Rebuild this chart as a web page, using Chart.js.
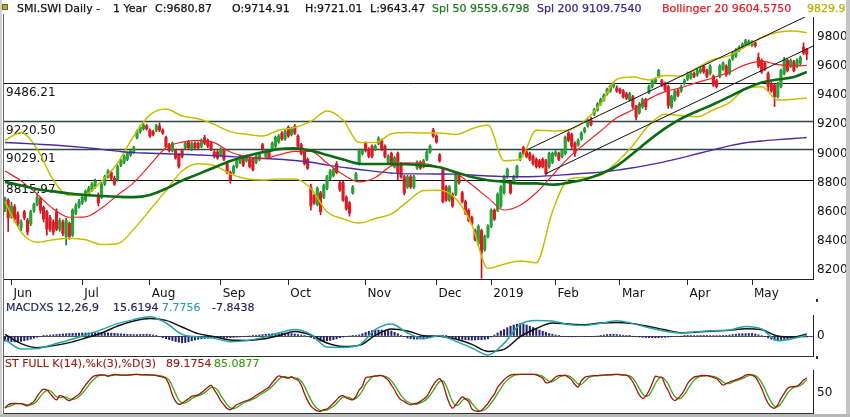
<!DOCTYPE html>
<html>
<head>
<meta charset="utf-8">
<title>SMI.SWI Daily - 1 Year</title>
<script src="https://cdn.jsdelivr.net/npm/chart.js@4.4.1/dist/chart.umd.min.js"></script>
<style>
  html, body { margin: 0; padding: 0; background: #fff; }
  #wrap { position: relative; width: 850px; height: 417px; overflow: hidden; background: #fff;
          font-family: "DejaVu Sans", sans-serif; }
  canvas { position: absolute; left: 0; }
  .t { position: absolute; white-space: pre; line-height: 14px; z-index: 5; }
  .hdr { top: 2px; font-size: 11px; -webkit-text-stroke: 0.25px; }
  .sub { font-size: 11px; -webkit-text-stroke: 0.15px; }
  .mark { position: absolute; left: 816px; width: 2px; height: 3px; background: #333; z-index: 5; }
  #icon { position: absolute; left: 2px; top: 4px; width: 4px; height: 4px; background: #b3a640;
          border: 1px solid #6e6a22; z-index: 5; }
  #frameL { position: absolute; left: 0; top: 0; width: 2px; height: 417px; background: #d0d0d0; z-index: 6; }
  #lineL { position: absolute; left: 3px; top: 14px; width: 1px; height: 400px; background: #6a6a6a; z-index: 6; }
  #frameR { position: absolute; left: 846px; top: 0; width: 4px; height: 417px; background: #c4c4c4; z-index: 6; }
  #frameB { position: absolute; left: 0; top: 414px; width: 850px; height: 3px; background: #b9b9b9; z-index: 6; }
</style>
</head>
<body>
<div id="wrap">
  <canvas id="main" width="850" height="302" style="top:0"></canvas>
  <canvas id="macd" width="850" height="58" style="top:300px"></canvas>
  <canvas id="stoch" width="850" height="58" style="top:356px"></canvas>

  <div id="icon"></div>
  <div class="t hdr" style="left:17px;color:#111">SMI.SWI Daily -</div>
  <div class="t hdr" style="left:113px;color:#111">1 Year</div>
  <div class="t hdr" style="left:155px;color:#111">C:9680.87</div>
  <div class="t hdr" style="left:232px;color:#111">O:9714.91</div>
  <div class="t hdr" style="left:305px;color:#111">H:9721.01</div>
  <div class="t hdr" style="left:370px;color:#111">L:9643.47</div>
  <div class="t hdr" style="left:432px;color:#1f7a1f">Spl 50 9559.6798</div>
  <div class="t hdr" style="left:537px;color:#3b2790">Spl 200 9109.7540</div>
  <div class="t hdr" style="left:662px;color:#e4202a">Bollinger 20 9604.5750</div>
  <div class="t hdr" style="left:807px;color:#b3b300">9829.9360</div>

  <div class="t sub" style="left:6px;top:301px;color:#1c1c5c">MACDXS 12,26,9</div>
  <div class="t sub" style="left:113px;top:301px;color:#1c1c5c">15.6194</div>
  <div class="t sub" style="left:162px;top:301px;color:#2a9f9f">7.7756</div>
  <div class="t sub" style="left:212px;top:301px;color:#1c1c5c">-7.8438</div>
  <div class="mark" style="top:299px"></div>
  <div class="mark" style="top:356px"></div>

  <div class="t sub" style="left:5px;top:357px;color:#9a1b12">ST FULL K(14),%k(3),%D(3)</div>
  <div class="t sub" style="left:166px;top:357px;color:#9a1b12">89.1754</div>
  <div class="t sub" style="left:214px;top:357px;color:#3f9a12">85.0877</div>

  <div id="frameL"></div>
  <div id="lineL"></div>
  <div id="frameR"></div>
  <div id="frameB"></div>
</div>
<script>
// daily candles, one entry per trading day (late May 2018 .. late May 2019)
const opens = [
  8620,8680,8570,8635,8580,8490,8600,8540,8520,8610,
  8650,8690,8630,8600,8560,8530,8600,8480,8530,8430,
  8520,8440,8590,8640,8660,8680,8720,8750,8770,8710,
  8700,8790,8840,8870,8830,8820,8920,8940,8960,8990,
  9010,9110,9150,9170,9190,9160,9150,9160,9190,9160,
  9110,9060,9020,9020,8990,9020,9040,9080,9030,9070,
  9070,9050,9110,9090,9070,9010,9010,8990,9020,8930,
  8870,8870,8910,8940,8970,8950,8960,8960,8940,8960,
  9060,8980,9010,9030,9050,9080,9140,9100,9180,9130,
  9185,9120,9060,9010,8960,8770,8710,8650,8730,8700,
  8760,8830,8850,8930,8800,8800,8700,8660,8730,8820,
  8930,9000,9070,9030,9050,9030,9070,9090,9050,8940,
  9000,8910,9000,8930,8840,8770,8840,8770,8900,8940,
  8910,8960,9010,9160,9120,8990,8890,8770,8680,8720,
  8720,8860,8730,8670,8610,8560,8470,8380,8470,8340,
  8430,8500,8610,8610,8640,8730,8840,8800,8800,8840,
  8960,9040,9010,9000,8980,8960,8950,8960,8950,8910,
  8940,8990,9000,8980,9000,9140,9130,9070,9060,9100,
  9150,9190,9230,9270,9300,9340,9370,9410,9430,9460,
  9450,9440,9430,9410,9370,9390,9320,9280,9320,9370,
  9420,9460,9490,9530,9500,9480,9460,9320,9370,9430,
  9430,9480,9510,9520,9550,9540,9560,9600,9570,9550,
  9530,9500,9530,9580,9600,9550,9650,9670,9710,9730,
  9750,9750,9745,9760,9660,9640,9620,9550,9480,9470,
  9390,9460,9550,9640,9600,9630,9600,9620,9730,9714.91
];
const highs = [
  8700,8690,8665,8650,8600,8545,8610,8555,8610,8660,
  8730,8700,8640,8610,8575,8545,8620,8555,8545,8555,
  8530,8620,8655,8685,8715,8750,8775,8800,8825,8730,
  8800,8850,8890,8880,8845,8920,8960,8990,9010,9030,
  9050,9160,9190,9205,9200,9170,9160,9200,9210,9170,
  9120,9070,9080,9030,9000,9030,9080,9090,9080,9080,
  9080,9100,9125,9100,9080,9020,9020,9040,9030,8940,
  8880,8920,8960,8990,8980,8990,8970,8970,8990,9010,
  9070,9030,9020,9080,9120,9130,9150,9160,9190,9180,
  9200,9130,9070,9020,8970,8790,8720,8770,8740,8790,
  8850,8890,8900,8945,8810,8810,8710,8670,8780,8870,
  9030,9030,9080,9040,9060,9060,9115,9100,9060,8990,
  9010,8980,9010,8940,8850,8850,8850,8850,8950,8950,
  8960,9020,9060,9173,9130,9000,8900,8780,8780,8730,
  8870,8870,8740,8680,8620,8570,8480,8510,8480,8440,
  8510,8620,8620,8730,8780,8850,8900,8810,8850,8920,
  9010,9050,9020,9010,8990,8970,8960,8970,8960,9010,
  9010,9020,9010,9030,9120,9150,9140,9080,9100,9150,
  9180,9240,9250,9310,9350,9380,9410,9450,9470,9490,
  9465,9450,9440,9420,9420,9400,9330,9350,9380,9380,
  9470,9510,9520,9578,9510,9490,9470,9400,9440,9440,
  9470,9510,9560,9560,9560,9580,9590,9610,9580,9610,
  9540,9510,9610,9630,9610,9650,9700,9720,9740,9760,
  9785,9780,9775,9770,9690,9650,9630,9560,9490,9480,
  9490,9580,9660,9650,9650,9640,9650,9670,9760,9721.01
];
const lows = [
  8600,8464,8555,8530,8500,8470,8545,8440,8505,8595,
  8640,8590,8530,8440,8465,8440,8470,8465,8435,8372,
  8410,8430,8580,8625,8650,8670,8710,8740,8760,8640,
  8690,8780,8830,8815,8780,8810,8910,8930,8950,8980,
  9000,9100,9140,9160,9160,9110,9120,9150,9150,9130,
  9040,9010,9010,8960,8900,8970,9030,9030,9020,9030,
  9030,9040,9060,9040,9020,8970,8960,8980,8950,8860,
  8795,8860,8900,8930,8910,8940,8900,8880,8930,8950,
  9020,8970,8970,9020,9040,9070,9090,9090,9110,9120,
  9130,9040,8990,8920,8890,8610,8650,8640,8580,8690,
  8750,8820,8840,8860,8740,8670,8610,8570,8720,8810,
  8920,8990,9010,8970,8970,9020,9060,9020,8970,8930,
  8920,8900,8820,8830,8715,8760,8760,8760,8890,8890,
  8900,8950,9000,9110,9070,8940,8660,8670,8670,8630,
  8710,8790,8660,8580,8530,8510,8400,8370,8143,8330,
  8420,8490,8540,8600,8630,8720,8830,8720,8790,8830,
  8950,8990,8970,8950,8920,8900,8900,8900,8850,8900,
  8930,8980,8950,8970,8990,9080,9035,8980,9050,9090,
  9140,9180,9190,9260,9290,9330,9360,9400,9420,9450,
  9420,9410,9380,9370,9360,9310,9230,9270,9310,9300,
  9410,9450,9480,9520,9460,9430,9310,9310,9360,9390,
  9420,9470,9500,9510,9520,9530,9550,9550,9520,9540,
  9460,9450,9520,9570,9530,9540,9640,9660,9700,9720,
  9740,9740,9735,9730,9590,9550,9570,9425,9420,9322,
  9380,9450,9540,9560,9590,9560,9590,9610,9680,9643.47
];
const closes = [
  8690,8560,8640,8550,8520,8530,8560,8460,8600,8650,
  8700,8610,8550,8480,8480,8460,8480,8540,8450,8540,
  8430,8610,8640,8670,8700,8740,8760,8790,8810,8660,
  8790,8840,8880,8830,8790,8910,8950,8980,9000,9020,
  9040,9150,9180,9195,9170,9120,9130,9190,9160,9140,
  9050,9020,9070,8970,8910,8980,9070,9040,9070,9040,
  9040,9090,9070,9050,9030,8980,8970,9030,8960,8870,
  8820,8910,8950,8980,8920,8980,8910,8890,8980,9000,
  9030,9020,8980,9070,9110,9120,9100,9150,9120,9170,
  9140,9050,9000,8930,8900,8640,8660,8760,8600,8780,
  8840,8880,8890,8870,8750,8680,8620,8590,8770,8860,
  9020,9020,9020,8980,8980,9050,9100,9030,8980,8980,
  8930,8970,8870,8840,8730,8840,8770,8840,8940,8900,
  8950,9010,9050,9120,9080,8950,8670,8680,8770,8640,
  8860,8800,8670,8590,8540,8520,8410,8500,8320,8430,
  8500,8610,8550,8720,8770,8840,8890,8730,8840,8910,
  9000,9000,8980,8960,8930,8910,8910,8910,8860,9000,
  9000,9010,8960,9020,9110,9090,9050,9000,9090,9140,
  9170,9230,9200,9300,9340,9370,9400,9440,9460,9485,
  9430,9420,9390,9380,9410,9320,9250,9340,9370,9320,
  9460,9500,9510,9570,9470,9440,9330,9390,9430,9400,
  9460,9500,9550,9550,9530,9570,9580,9560,9530,9600,
  9470,9460,9600,9620,9540,9640,9690,9710,9730,9750,
  9775,9770,9765,9740,9600,9560,9580,9460,9430,9390,
  9480,9570,9650,9570,9640,9570,9640,9660,9690,9680.87
];

// overlay lines read every 5 trading days
const sampleDays = [0,5,10,15,20,25,30,35,40,45,50,55,60,65,70,75,80,85,90,95,
  100,105,110,115,120,125,130,135,140,145,150,155,160,165,170,175,180,185,190,195,
  200,205,210,215,220,225,230,235,240,245,249];
const spl50 = [8805,8780,8755,8740,8725,8715,8708,8703,8700,8715,8758,8814,8858,8904,8948,8983,9008,9030,9036,9020,
  8990,8958,8930,8928,8928,8926,8918,8905,8871,8838,8816,8806,8795,8795,8786,8800,8822,8860,8915,9000,
  9090,9172,9240,9290,9338,9390,9445,9488,9508,9525,9559.68];
const spl200 = [9075,9070,9064,9058,9050,9040,9028,9016,9006,9002,8998,8994,8990,8985,8979,8973,8966,8960,8952,8940,
  8920,8905,8890,8877,8866,8860,8860,8859,8858,8852,8845,8841,8840,8842,8848,8856,8864,8872,8886,8902,
  8922,8944,8970,8998,9025,9052,9074,9086,9095,9103,9109.75];
const bollMid = [8880,8812,8720,8620,8562,8565,8625,8715,8800,8920,9040,9078,9090,9075,9010,8978,8966,8990,9015,9015,
  8935,8855,8805,8835,8915,8935,8930,8905,8866,8785,8695,8612,8645,8730,8850,8970,9065,9155,9245,9300,
  9375,9425,9452,9488,9520,9560,9610,9635,9610,9602,9604.58];
const bollUp = [9090,9145,9030,8818,8712,8720,8810,8935,9120,9265,9305,9258,9238,9200,9150,9132,9120,9160,9178,9220,
  9292,9230,9075,9075,9135,9145,9140,9140,9130,9170,9195,8950,8960,9160,9155,9160,9225,9340,9510,9525,
  9505,9535,9532,9590,9645,9672,9735,9795,9832,9842,9829.94];
const bollLow = [8670,8460,8390,8408,8418,8407,8375,8380,8480,8612,8745,8880,8930,8918,8860,8826,8818,8825,8825,8760,
  8600,8552,8522,8553,8585,8670,8745,8748,8690,8510,8210,8240,8262,8250,8600,8822,8835,8850,8940,9055,
  9195,9270,9260,9253,9300,9350,9445,9458,9368,9373,9379];
const macdLine = [-29,-104,-101,-67,-32,8,51,99,131,155,104,13,-8,-19,-45,-37,-13,24,53,13,
  -88,-91,-72,51,96,24,-21,3,-43,-96,-152,-59,95,125,120,91,85,101,123,99,
  66,38,24,35,43,48,77,56,-37,-19,7.78];
const macdSignal = [13,-61,-93,-77,-53,-16,24,80,120,141,125,72,19,-5,-32,-35,-24,3,37,8,
  -56,-83,-75,5,56,40,3,-3,-24,-67,-123,-107,-5,60,104,96,91,104,109,99,
  76,50,27,32,40,45,59,50,0,-8,15.62];

// daily MACD histogram and stochastic
const macdHist = [
  -40,-44,-46,-47,-46,-43,-38,-32,-25,-17,
  -10,-4,1,5,8,10,12,14,16,18,
  20,21,22,23,24,24,25,25,26,27,
  27,26,25,23,21,19,17,15,13,12,
  11,11,12,13,14,12,8,2,-5,-13,
  -21,-29,-37,-44,-50,-55,-52,-45,-38,-32,
  -27,-23,-20,-17,-15,-14,-13,-13,-13,-13,
  -13,-11,-9,-7,-5,-2,0,3,6,9,
  11,14,16,18,20,21,22,22,21,19,
  16,12,8,3,-4,-12,-22,-32,-40,-42,
  -38,-35,-30,-22,-14,-8,-4,0,2,5,
  9,18,28,37,43,46,48,48,46,43,
  40,30,18,5,-6,-16,-22,-25,-25,-24,
  -24,-18,-12,-6,0,4,6,2,-5,-12,
  -18,-23,-27,-30,-32,-33,-32,-30,-29,-27,
  -22,-8,8,24,40,52,66,78,88,95,
  100,96,88,78,68,58,48,38,28,20,
  14,8,3,-2,-5,-6,-7,-6,-4,-2,
  -2,-3,-3,-2,0,3,8,12,14,13,
  12,9,6,3,1,-2,-5,-8,-10,-12,
  -13,-14,-14,-13,-12,-10,-8,-6,-4,-2,
  -1,1,2,3,4,4,5,5,5,4,
  4,4,4,5,6,8,11,14,17,19,
  18,20,20,16,10,4,-6,-16,-26,-34,
  -37,-34,-28,-22,-17,-12,-10,-9,-8,-7.84
];
const stochK = [
  10,19,22,23,22,22,19,16,22,28,
  41,53,60,58,49,39,32,43,41,34,
  30,35,41,47,58,71,81,91,96,97,
  98,97,94,97,99,98,97,97,97,98,
  99,99,98,98,98,97,97,96,94,92,
  88,71,45,28,20,23,29,35,41,43,
  45,51,58,65,70,58,45,30,19,9,
  6,12,19,23,27,30,33,38,44,49,
  54,60,66,77,87,95,93,91,89,93,
  87,84,71,49,30,16,8,3,2,6,
  8,15,23,32,41,43,37,34,32,41,
  58,68,90,92,94,95,96,96,91,84,
  71,58,42,32,28,22,19,22,23,28,
  34,41,56,71,82,88,75,47,23,10,
  19,30,40,34,28,8,3,2,4,13,
  23,36,47,65,75,85,92,97,99,99,
  99,99,99,99,99,98,94,89,77,78,
  84,92,96,96,97,91,84,72,66,82,
  91,94,95,96,96,97,97,98,98,99,
  99,98,97,97,91,79,62,45,36,42,
  56,75,94,92,91,71,56,38,30,36,
  45,58,75,85,92,94,96,96,96,94,
  91,88,79,71,75,79,82,85,88,92,
  97,99,97,92,79,62,41,23,13,10,
  19,36,49,62,66,67,68,75,84,89.18
];
const stochD = [
  12,14,17,21,22,22,21,19,19,22,
  30,41,51,57,56,49,40,38,39,39,
  35,33,35,41,49,59,70,81,89,95,
  97,97,96,96,97,98,98,97,97,97,
  98,99,99,98,98,98,97,97,96,94,
  91,84,68,48,31,24,24,29,35,40,
  43,46,51,58,64,64,58,44,31,19,
  11,9,12,18,23,27,30,34,38,44,
  49,54,60,68,77,86,92,93,91,91,
  90,88,81,68,50,32,18,9,4,4,
  5,10,15,23,32,39,40,38,34,36,
  44,56,72,83,92,94,95,96,94,90,
  82,71,57,44,34,27,23,21,21,24,
  28,34,44,56,70,80,82,70,48,27,
  17,20,30,35,34,23,13,4,3,6,
  13,24,35,49,62,75,84,91,96,98,
  99,99,99,99,99,99,97,94,87,81,
  80,85,91,95,96,95,91,82,74,73,
  80,89,93,95,96,96,97,97,98,98,
  99,99,98,97,95,89,77,62,48,41,
  45,58,75,87,92,85,73,55,41,35,
  37,46,59,73,84,90,94,95,96,95,
  94,91,86,79,75,75,79,82,85,88,
  92,96,98,96,89,78,61,42,26,15,
  14,22,35,49,59,65,67,70,76,85.09
];

// horizontal levels and channel lines drawn on the price panel
const levels = [9486.21, 9220.50, 9029.01, 8815.97];
const channelUpper = [[162, 9024], [250.94, 9964]];
const channelLower = [[168, 8862], [250.94, 9738]];

// axes
const monthDays = [2, 24, 45, 67, 88, 112, 134, 151, 171, 191, 212, 232];
const monthLabels = ['Jun','Jul','Aug','Sep','Oct','Nov','Dec','2019','Feb','Mar','Apr','May'];
const priceTicks = [8200, 8400, 8600, 8800, 9000, 9200, 9400, 9600, 9800];

Chart.defaults.font.family = '"DejaVu Sans", sans-serif';
Chart.defaults.font.size = 12;
Chart.defaults.color = '#111';
Chart.defaults.animation = false;
Chart.defaults.events = [];
Chart.defaults.plugins.legend.display = false;
Chart.defaults.plugins.tooltip.enabled = false;

const X_MIN = -0.3, X_MAX = 250.94;
const UP = '#27a336', UP_WICK = '#1b7a25', DOWN = '#dc1c24', DOWN_WICK = '#c0141c';

const isUp = i => closes[i] >= opens[i];
const sampled = arr => sampleDays.map((d, k) => ({ x: d, y: arr[k] }));
const daily = arr => arr.map((v, i) => ({ x: i, y: v }));

// keep label overhang from shrinking the plot area
function noPad(s) {
  s.paddingTop = 0; s.paddingBottom = 0; s.paddingLeft = 0; s.paddingRight = 0;
}

function line(data, color, width, order) {
  return { type: 'line', data, borderColor: color, borderWidth: width, pointRadius: 0,
           cubicInterpolationMode: 'monotone', fill: false, order };
}

function plainX(h) {
  return {
    type: 'linear', min: X_MIN, max: X_MAX, offset: false,
    grid: { display: true, drawOnChartArea: false, drawTicks: false, offset: false },
    border: { display: true, color: '#333' },
    ticks: { display: false },
    afterFit: s => { s.height = h; noPad(s); }
  };
}

function rightY(min, max, tickVals, zeroGrid) {
  return {
    type: 'linear', position: 'right', min, max,
    grid: { display: true, drawOnChartArea: !!zeroGrid, drawTicks: false, color: '#555' },
    border: { display: true, color: '#222' },
    ticks: { padding: 4, callback: v => String(v) },
    afterBuildTicks: s => { s.ticks = tickVals.map(v => ({ value: v })); },
    afterFit: s => { s.width = 37; noPad(s); }
  };
}

const levelPlugin = {
  id: 'levels',
  beforeDatasetsDraw(chart) {
    const { ctx, chartArea: a } = chart;
    const y = chart.scales.y;
    ctx.save();
    levels.forEach((v, k) => {
      const py = Math.round(y.getPixelForValue(v)) + 0.5;
      const mid = k === 1 || k === 2;
      ctx.strokeStyle = mid ? '#2c4646' : '#111';
      ctx.lineWidth = mid ? 1.6 : 1;
      ctx.beginPath();
      ctx.moveTo(a.left, py);
      ctx.lineTo(a.right, py);
      ctx.stroke();
      ctx.fillStyle = '#111';
      ctx.font = '12px "DejaVu Sans", sans-serif';
      ctx.textBaseline = 'top';
      ctx.fillText(v.toFixed(2), a.left + 2, py + 3);
    });
    ctx.restore();
  }
};

new Chart(document.getElementById('main'), {
  type: 'bar',
  data: {
    datasets: [
      line(channelUpper.map(p => ({ x: p[0], y: p[1] })), '#111', 1, 0),
      line(channelLower.map(p => ({ x: p[0], y: p[1] })), '#111', 1, 0),
      line(sampled(spl50), '#0b6b14', 2.6, 1),
      line(sampled(bollMid), '#ee2424', 1.2, 2),
      line(sampled(spl200), '#4a2ba3', 1.4, 3),
      line(sampled(bollUp), '#c6bf00', 1.5, 4),
      line(sampled(bollLow), '#c6bf00', 1.5, 4),
      {
        type: 'bar',
        data: opens.map((o, i) => ({ x: i, y: [o, closes[i]] })),
        backgroundColor: c => isUp(c.dataIndex) ? UP : DOWN,
        barThickness: 2.5, grouped: false, borderWidth: 0, order: 5
      },
      {
        type: 'bar',
        data: highs.map((h, i) => ({ x: i, y: [lows[i], h] })),
        backgroundColor: c => isUp(c.dataIndex) ? UP_WICK : DOWN_WICK,
        barThickness: 1, grouped: false, borderWidth: 0, order: 6
      }
    ]
  },
  options: {
    responsive: false,
    layout: { padding: { left: 4, top: 17, right: 0, bottom: 0 } },
    scales: {
      x: {
        type: 'linear', min: X_MIN, max: X_MAX, offset: false,
        grid: { display: true, drawOnChartArea: false, drawTicks: true, tickLength: 6,
                color: '#222', offset: false },
        border: { display: true, color: '#222' },
        ticks: { autoSkip: false, maxRotation: 0, align: 'start', labelOffset: 2, padding: 2,
                 color: '#111', callback: (v, i) => monthLabels[i] },
        afterBuildTicks: s => { s.ticks = monthDays.map(v => ({ value: v })); },
        afterFit: s => { s.height = 23; noPad(s); }
      },
      y: rightY(8138, 9937.4, priceTicks, false)
    }
  },
  plugins: [levelPlugin]
});

new Chart(document.getElementById('macd'), {
  type: 'bar',
  data: {
    datasets: [
      line(sampled(macdLine), '#23a5a5', 1.5, 0),
      line(sampled(macdSignal), '#111', 1.5, 1),
      {
        type: 'bar', data: daily(macdHist), backgroundColor: '#23236e',
        barThickness: 1.4, grouped: false, borderWidth: 0, order: 2
      }
    ]
  },
  options: {
    responsive: false,
    layout: { padding: { left: 4, top: 15, right: 0, bottom: 0 } },
    scales: { x: plainX(2), y: rightY(-160, 168, [0], true) }
  }
});

new Chart(document.getElementById('stoch'), {
  type: 'line',
  data: {
    datasets: [
      { data: daily(stochK), borderColor: '#a3140c', borderWidth: 1.3, pointRadius: 0, tension: 0.35, order: 0 },
      { data: daily(stochD), borderColor: '#3aa816', borderWidth: 1.3, pointRadius: 0, tension: 0.35, order: 1 }
    ]
  },
  options: {
    responsive: false,
    layout: { padding: { left: 4, top: 14, right: 0, bottom: 0 } },
    scales: { x: plainX(1), y: rightY(-2.6, 110.6, [50], false) }
  }
});
</script>
</body>
</html>
